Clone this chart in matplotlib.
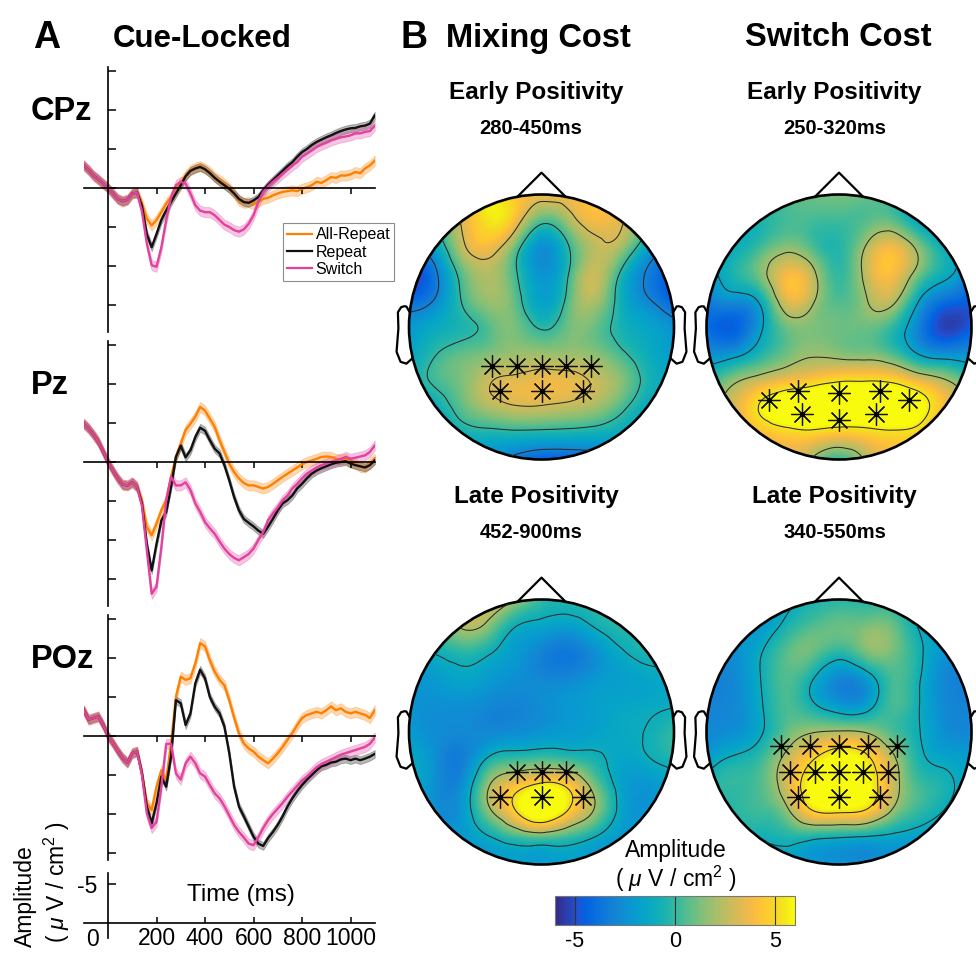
import numpy as np
import matplotlib
matplotlib.use('Agg')
import matplotlib.pyplot as plt
import matplotlib.tri as mtri
from matplotlib.colors import LinearSegmentedColormap, Normalize
from matplotlib.cm import ScalarMappable
from matplotlib.patches import Circle
from matplotlib.lines import Line2D

plt.rcParams['font.family'] = ['Liberation Sans', 'DejaVu Sans']
plt.rcParams['mathtext.fontset'] = 'custom'
plt.rcParams['mathtext.rm'] = 'Liberation Sans'
plt.rcParams['mathtext.it'] = 'Liberation Sans:italic'

# ---------------- ERP data (uV/cm^2, 20 ms steps) ----------------
t_ms = np.arange(-100, 1101, 20)

# shared part -100..120 ms, then condition specific 140..1100 ms
cpz_pre = [-2.9, -2.3, -1.6, -1.1, -0.55, 0.0, 0.7, 1.4, 1.7, 1.5, 0.7, 0.6]
cpz_allrep = [2.0, 3.9, 4.8, 4.1, 3.1, 2.0, 1.2, 0.3, -0.65, -1.6,
              -2.3, -2.6, -2.8, -2.5, -2.05, -1.4, -1.0, -0.55, 0.0, 0.7,
              1.6, 1.9, 1.8, 2.1, 1.8, 1.4, 1.25, 0.95, 0.7, 0.5,
              0.4, 0.3, 0.4, 0.1, -0.1, -0.35, -0.8, -0.65, -1.0, -1.4,
              -1.3, -1.6, -1.6, -1.75, -2.05, -1.9, -2.5, -2.9, -3.5]
cpz_repeat = [2.3, 5.9, 7.6, 5.9, 4.1, 2.9, 1.8, 0.7, -0.35, -1.5,
              -2.2, -2.5, -2.7, -2.4, -1.9, -1.3, -0.8, -0.35, 0.1, 0.7,
              1.4, 1.8, 1.9, 1.6, 1.15, 0.3, -0.4, -1.0, -1.6, -2.2,
              -2.8, -3.3, -4.0, -4.6, -5.0, -5.5, -5.9, -6.2, -6.5, -6.75,
              -7.05, -7.3, -7.5, -7.65, -7.7, -7.9, -8.0, -8.25, -9.3]
cpz_switch = [3.0, 7.1, 9.9, 10.1, 7.6, 4.1, 1.2, -0.35, -0.8, -0.55,
              0.7, 2.2, 2.9, 3.1, 3.1, 3.5, 4.1, 4.7, 5.0, 5.4,
              5.6, 5.3, 4.6, 3.5, 1.8, 0.5, -0.2, -0.8, -1.3, -1.85,
              -2.35, -2.9, -3.3, -4.0, -4.4, -4.8, -5.25, -5.55, -5.8, -6.1,
              -6.3, -6.5, -6.6, -6.75, -7.0, -7.0, -7.2, -7.3, -8.0]

pz_pre = [-4.9, -4.3, -3.5, -2.6, -1.3, 0.0, 1.1, 2.1, 2.9, 3.0, 2.6, 3.2]
pz_allrep = [5.0, 8.3, 9.4, 7.9, 6.2, 4.9, 1.9, -0.65, -2.35, -4.1,
             -4.9, -5.8, -7.05, -6.6, -5.55, -4.5, -2.8, -1.3, 0.2, 1.3,
             2.1, 2.7, 3.0, 3.0, 3.2, 3.4, 3.2, 2.8, 2.35, 1.9,
             1.5, 1.1, 0.7, 0.3, 0.0, -0.2, -0.4, -0.65, -0.7, -0.65,
             -0.4, -0.3, -0.4, 0.0, 0.2, 0.65, 0.7, 0.2, -0.4]
pz_repeat = [5.3, 10.5, 13.9, 10.5, 7.5, 6.4, 3.2, -0.65, -2.1, -0.6,
             -1.5, -3.2, -4.4, -4.0, -2.8, -1.7, -1.1, 0.4, 2.35, 4.5,
             6.2, 7.3, 7.8, 8.25, 8.8, 9.2, 8.3, 7.3, 6.2, 5.3,
             4.9, 4.3, 3.4, 2.8, 2.1, 1.5, 1.1, 0.8, 0.55, 0.3,
             0.1, 0.0, -0.1, 0.2, 0.4, 0.55, 0.7, 0.4, -0.2]
pz_switch = [5.6, 11.3, 16.9, 16.0, 10.9, 4.9, 1.9, 3.0, 3.0, 2.6,
             3.6, 5.3, 6.4, 7.7, 8.5, 9.2, 10.2, 11.1, 11.8, 12.3,
             12.6, 12.2, 11.8, 11.1, 10.0, 9.0, 7.5, 6.6, 5.8, 4.9,
             4.3, 3.4, 2.8, 2.1, 1.5, 1.1, 0.7, 0.4, 0.2, 0.0,
             -0.2, -0.4, -0.65, -0.4, -0.55, -0.7, -0.85, -1.3, -2.1]

poz_pre = [-3.3, -2.1, -2.3, -2.5, -1.4, 0.0, 0.9, 1.9, 2.8, 3.4, 2.2, 2.0]
poz_allrep = [4.8, 8.6, 9.5, 6.5, 4.4, 5.6, 0.95, -5.0, -7.6, -7.2,
              -7.4, -9.3, -11.9, -11.5, -9.7, -8.25, -7.2, -6.5, -4.6, -2.35,
              -0.35, 0.95, 1.6, 2.0, 2.65, 3.1, 3.5, 2.9, 2.2, 1.4,
              0.5, -0.35, -1.4, -2.3, -2.7, -2.9, -3.1, -2.9, -3.3, -3.8,
              -3.3, -3.55, -3.1, -2.9, -3.1, -2.9, -2.7, -2.3, -3.3]
poz_repeat = [4.8, 9.05, 11.2, 8.6, 5.2, 6.5, 2.65, -4.6, -4.2, -1.4,
              -2.9, -6.75, -8.5, -7.4, -5.0, -3.75, -2.9, -1.2, 2.2, 6.5,
              9.05, 10.3, 11.6, 12.9, 13.8, 14.1, 13.1, 12.3, 11.4, 10.3,
              9.05, 8.0, 7.1, 6.3, 5.6, 5.0, 4.4, 3.9, 3.7, 3.4,
              3.3, 3.0, 2.9, 3.1, 2.9, 3.1, 2.9, 2.65, 2.3]
poz_switch = [5.0, 9.9, 11.8, 11.0, 6.5, 1.0, 1.0, 4.8, 5.6, 3.5,
              2.65, 3.5, 4.8, 5.2, 6.3, 7.35, 8.0, 9.0, 10.2, 11.4,
              12.3, 13.0, 13.8, 14.0, 13.0, 11.8, 10.8, 10.0, 9.3, 8.6,
              7.8, 7.1, 6.4, 5.7, 5.2, 4.6, 4.0, 3.6, 3.3, 3.0,
              2.7, 2.4, 2.2, 2.0, 1.8, 1.6, 1.4, 1.0, 0.2]

conditions = ['All-Repeat', 'Repeat', 'Switch']
cond_colors = ['#FF7F00', '#111111', '#E2419E']
cond_se = [0.65, 0.5, 0.65]

# ---------------- topography data (11x11 grid over the head, top row = front) ----------------
grid_xy = np.linspace(-1, 1, 11)

mix_early = [
    [2.0, 3.5, 5.0, 6.0, 4.5, 3.8, 3.8, 4.0, 3.5, 1.5, 0.0],
    [-0.5, 1.0, 3.2, 5.4, 4.0, 0.5, 2.0, 3.8, 3.2, 1.0, -0.5],
    [-3.0, -1.5, 2.5, 3.8, 1.0, -2.5, -0.2, 2.5, 2.0, -1.5, -3.0],
    [-5.5, -3.3, 0.7, 2.3, 0.3, -2.3, -0.1, 2.8, -0.3, -3.2, -5.0],
    [-4.0, -2.8, 0.1, 1.8, 0.8, -1.7, 0.5, 2.2, -0.8, -2.8, -4.5],
    [-2.2, -1.2, -0.5, 0.6, 1.2, -0.2, 1.0, 1.0, -0.6, -1.5, -2.5],
    [-1.5, -0.1, 0.8, 1.3, 1.8, 1.8, 1.8, 1.5, 0.3, -1.0, -2.0],
    [-1.2, 0.3, 1.3, 2.8, 3.3, 3.6, 3.5, 2.8, 1.5, -0.5, -1.5],
    [-2.0, -1.0, 0.8, 2.2, 2.9, 2.9, 2.6, 2.0, 0.5, -1.2, -2.0],
    [-2.5, -2.0, -0.8, -0.5, -0.4, -0.5, -0.6, -0.8, -1.2, -2.0, -2.5],
    [-3.2, -3.2, -2.5, -2.5, -3.5, -4.5, -4.5, -4.0, -3.2, -3.2, -3.2],
]
sw_early = [
    [-1.0, -0.5, 0.0, 0.5, 1.0, 1.2, 1.0, 0.5, -0.5, -1.4, -2.0],
    [-1.0, -0.8, -0.5, 0.3, 0.3, 0.2, 0.6, 0.8, -1.2, -2.0, -2.5],
    [-2.0, -1.0, 0.2, 1.5, 0.5, -0.3, 2.1, 3.8, 1.5, -1.0, -2.5],
    [-2.5, -0.5, 1.2, 3.8, 2.5, 0.0, 2.5, 4.0, 1.2, -1.0, -3.0],
    [-3.5, -2.5, -1.2, 3.2, 2.3, 0.5, 1.8, 2.5, -1.4, -3.8, -4.5],
    [-4.0, -4.5, -2.0, 1.0, 1.3, 1.0, 1.0, 0.0, -3.0, -5.3, -4.5],
    [-2.5, -2.2, -0.5, 1.0, 1.8, 1.5, 1.3, 0.5, -1.6, -2.5, -2.5],
    [-0.5, 1.5, 2.8, 3.8, 4.5, 5.2, 5.3, 5.0, 3.5, 2.1, 0.0],
    [1.0, 3.0, 5.6, 7.0, 7.5, 7.5, 7.5, 7.5, 6.5, 4.0, 2.1],
    [1.0, 2.5, 4.0, 4.8, 5.0, 4.5, 4.8, 5.2, 4.8, 3.0, 1.5],
    [1.0, 2.1, 3.0, 3.5, 1.8, 0.0, 2.2, 4.0, 4.0, 2.5, 1.0],
]
mix_late = [
    [0.5, 1.5, 2.5, 3.0, 2.1, 0.0, -0.3, -0.3, -0.5, -0.9, -1.5],
    [-0.5, 0.5, 2.2, 1.5, -0.9, -1.5, -1.8, -0.9, -0.3, -0.5, -0.9],
    [-0.9, -0.9, -0.2, -0.8, -2.0, -3.0, -3.5, -2.5, -1.2, -0.5, -0.5],
    [-2.0, -2.0, -1.5, -2.0, -2.5, -2.8, -2.8, -2.2, -1.8, -1.5, -1.2],
    [-2.3, -2.5, -2.5, -2.8, -3.0, -2.6, -2.2, -1.8, -1.5, -1.3, -1.1],
    [-2.0, -2.6, -2.8, -2.8, -2.6, -2.3, -2.0, -1.7, -1.3, -0.9, 0.0],
    [-1.3, -2.5, -3.2, -0.8, 0.0, 0.3, 0.0, -0.6, -1.5, -1.1, -0.5],
    [-1.5, -2.5, -2.5, 1.8, 4.0, 5.5, 4.5, 1.2, -1.6, -2.2, -1.5],
    [-2.1, -2.5, -2.1, 1.5, 4.8, 7.5, 4.8, 1.8, -1.5, -2.3, -2.1],
    [-2.1, -2.2, -2.1, -1.2, 0.0, 0.5, 0.0, -1.1, -2.1, -2.2, -2.1],
    [-2.1, -2.1, -2.1, -1.8, -1.8, -1.8, -1.8, -1.8, -2.1, -2.1, -2.1],
]
sw_late = [
    [-2.0, -2.0, -1.5, -1.3, -0.5, -0.3, -0.3, -0.5, -1.5, -2.0, -2.0],
    [-2.5, -2.2, -2.0, -0.6, 0.5, 0.9, 1.2, 1.0, -1.1, -2.0, -2.5],
    [-2.5, -2.5, -1.2, 0.6, 0.9, -0.2, 1.1, 1.2, -0.6, -2.3, -2.5],
    [-3.0, -2.8, -1.1, 0.5, -0.9, -2.8, -2.0, 0.3, -0.8, -2.8, -3.0],
    [-3.0, -2.8, -1.3, 0.4, -0.7, -2.0, -1.8, 0.3, -0.9, -2.7, -3.0],
    [-2.8, -2.5, -1.3, 0.8, 1.9, 2.2, 1.9, 0.5, -0.9, -2.5, -2.8],
    [-2.0, -0.8, 0.0, 2.5, 4.8, 6.5, 5.5, 2.5, -0.5, -1.5, -2.0],
    [-0.5, 0.0, 0.5, 3.0, 6.5, 8.0, 6.5, 3.0, 0.3, -0.6, -2.0],
    [-1.1, -0.3, 0.2, 1.5, 4.8, 5.3, 4.7, 1.8, 0.0, -1.1, -2.0],
    [-1.5, -0.8, -0.8, -0.5, -0.7, -1.05, -1.3, -1.5, -1.8, -2.0, -2.0],
    [-2.0, -2.0, -2.0, -1.8, -2.0, -2.3, -2.5, -2.5, -2.5, -2.5, -2.5],
]

# significant electrodes (head radius units)
mix_early_ex = [-0.373, -0.183, 0.0, 0.183, 0.373, -0.313, 0.0, 0.31]
mix_early_ey = [-0.295, -0.295, -0.295, -0.295, -0.295, -0.48, -0.48, -0.48]
sw_early_ex = [-0.53, -0.31, 0.0, 0.31, 0.53, -0.283, 0.0, 0.283]
sw_early_ey = [-0.548, -0.485, -0.497, -0.485, -0.548, -0.66, -0.705, -0.66]
mix_late_ex = [-0.183, 0.0, 0.183, -0.31, 0.0, 0.31]
mix_late_ey = [-0.30, -0.30, -0.30, -0.49, -0.49, -0.49]
sw_late_ex = [-0.435, -0.22, 0.0, 0.22, 0.435, -0.37, -0.18, 0.0, 0.18, 0.37, -0.31, 0.0, 0.31]
sw_late_ey = [-0.106] * 5 + [-0.305] * 5 + [-0.49] * 3

# parula-like colormap
parula_anchors = [
    (0.2081, 0.1663, 0.5292), (0.1253, 0.3242, 0.8303), (0.0117, 0.3875, 0.8820),
    (0.0498, 0.4586, 0.8641), (0.0793, 0.5200, 0.8312), (0.0343, 0.5966, 0.8199),
    (0.0228, 0.6535, 0.7768), (0.0843, 0.6928, 0.7062), (0.2178, 0.7250, 0.6193),
    (0.3953, 0.7459, 0.5244), (0.5709, 0.7485, 0.4494), (0.7184, 0.7411, 0.3905),
    (0.8507, 0.7299, 0.3360), (0.9739, 0.7314, 0.2666), (0.9990, 0.7653, 0.2164),
    (0.9880, 0.8066, 0.1794), (0.9697, 0.8481, 0.1475), (0.9589, 0.8949, 0.1132),
    (0.9763, 0.9831, 0.0538)]
parula_pos = [0, 6, 8, 12, 16, 20, 24, 28, 32, 36, 40, 44, 48, 52, 54, 56, 58, 60, 63]
parula = LinearSegmentedColormap.from_list(
    'parula', [(p / 63, c) for p, c in zip(parula_pos, parula_anchors)])

W, H = 976, 958
fig = plt.figure(figsize=(W / 100, H / 100), dpi=100)


def ax_px(l, t, r, b):
    return fig.add_axes([l / W, 1 - b / H, (r - l) / W, (b - t) / H])


def label(x, y, s, size, weight='normal', **kw):
    fig.text(x / W, 1 - y / H, s, fontsize=size, fontweight=weight,
             ha=kw.pop('ha', 'center'), va=kw.pop('va', 'center'), **kw)


# ---------------- panel A ----------------
X0, X1 = 83.75, 374.75
channels = [
    ('CPz', 67.1, 332.3, 18.5, cpz_pre, [cpz_allrep, cpz_repeat, cpz_switch]),
    ('Pz', 341.1, 606.3, 18.5, pz_pre, [pz_allrep, pz_repeat, pz_switch]),
    ('POz', 615.1, 860.0, 15.9, poz_pre, [poz_allrep, poz_repeat, poz_switch]),
]
erp_axes = []
for name, top, bot, ymax, pre, posts in channels:
    ax = ax_px(X0, top, X1, bot)
    ax.patch.set_alpha(0)
    for post, c, se in zip(posts, cond_colors, cond_se):
        y = np.concatenate([pre, post])
        ax.fill_between(t_ms, y - se, y + se, color=c, alpha=0.3, lw=0.6)
        ax.plot(t_ms, y, color=c, lw=1.7)
    ax.set_xlim(-100, 1100)
    ax.set_ylim(ymax, -15.5)
    ax.spines['left'].set_position(('data', 0))
    ax.spines['bottom'].set_position(('data', 0))
    for s in ['top', 'right']:
        ax.spines[s].set_visible(False)
    for s in ['left', 'bottom']:
        ax.spines[s].set_linewidth(1.2)
    ax.set_yticks([-15, -10, -5, 0, 5, 10, 15])
    ax.set_yticklabels([])
    ax.set_xticks([200, 400, 600, 800, 1000])
    ax.set_xticklabels([])
    ax.tick_params(axis='y', direction='in', length=6, width=1.1)
    ax.tick_params(axis='x', direction='out', length=4, width=1.1)
    erp_axes.append(ax)

handles = [Line2D([], [], color=c, lw=1.6) for c in cond_colors]
leg = erp_axes[0].legend(handles, conditions, loc='upper left', bbox_to_anchor=(0.684, 0.411),
                         fontsize=11.5, frameon=True, fancybox=False, edgecolor='#8c8c8c',
                         framealpha=1, handlelength=1.6, handletextpad=0.2, borderpad=0.25,
                         labelspacing=0.15, borderaxespad=0)
leg.get_frame().set_linewidth(0.8)

# scale bar axis
ax_s = ax_px(X0, 873, X1, 938)
ax_s.patch.set_alpha(0)
ax_s.set_xlim(-100, 1100)
ax_s.set_ylim(1.9, -6.4)
ax_s.spines['left'].set_position(('data', 0))
ax_s.spines['bottom'].set_position(('data', 0))
for s in ['top', 'right']:
    ax_s.spines[s].set_visible(False)
for s in ['left', 'bottom']:
    ax_s.spines[s].set_linewidth(1.2)
ax_s.set_yticks([-5])
ax_s.set_yticklabels(['-5'])
ax_s.set_xticks([200, 400, 600, 800, 1000])
ax_s.set_xticklabels(['200', '400', '600', '800', '1000'])
ax_s.tick_params(axis='y', direction='in', length=6, width=1.1, labelsize=16.5, pad=8)
ax_s.tick_params(axis='x', direction='in', length=4, width=1.1, labelsize=16.5, pad=3)

label(92.5, 940, '0', 16.5)
label(241, 895, 'Time (ms)', 17.5)
label(25, 896, 'Amplitude', 16.5, rotation=90)
label(57, 882, r'( $\mu$ V / $\mathrm{cm}^{2}$ )', 16.5, rotation=90)

label(47, 38, 'A', 27, 'bold')
label(202, 39, 'Cue-Locked', 22.5, 'bold')
label(31, 112, 'CPz', 23.5, 'bold', ha='left')
label(31, 386, 'Pz', 23.5, 'bold', ha='left')
label(31, 659, 'POz', 23.5, 'bold', ha='left')

# ---------------- panel B ----------------
gx, gy = np.meshgrid(grid_xy, grid_xy[::-1])
n = len(grid_xy)
tris = []
for i in range(n - 1):
    for j in range(n - 1):
        k = i * n + j
        tris.append([k, k + 1, k + n])
        tris.append([k + 1, k + n + 1, k + n])
base_tri = mtri.Triangulation(gx.ravel(), gy.ravel(), np.array(tris))
refiner = mtri.UniformTriRefiner(base_tri)

ear_x = np.array([.497, .510, .518, .5299, .5419, .54, .547, .532, .510, .489]) * 2
ear_y = np.array([.0555, .0775, .0783, .0746, .0555, -.0055, -.0932, -.1313, -.1384, -.1199]) * 2


def topo(cx, cy, grid, ex, ey, levels):
    R = 132.5
    ax = ax_px(cx - 1.2 * R, cy - 1.22 * R, cx + 1.2 * R, cy + 1.08 * R)
    ax.set_xlim(-1.2, 1.2)
    ax.set_ylim(-1.08, 1.22)
    ax.axis('off')
    tri_f, z_f = refiner.refine_field(np.asarray(grid, float).ravel(), subdiv=4)
    clip = Circle((0, 0), 1.0, transform=ax.transData)
    pc = ax.tripcolor(tri_f, z_f, shading='gouraud', cmap=parula, vmin=-6, vmax=6)
    pc.set_clip_path(clip)
    cs = ax.tricontour(tri_f, z_f, levels=levels, colors='#2b2b2b',
                       linewidths=0.75, linestyles='solid')
    cs.set_clip_path(clip)
    ax.add_patch(Circle((0, 0), 1.0, fill=False, lw=1.9, ec='k'))
    ax.plot([0.18, 0, -0.18], [0.985, 1.165, 0.985], color='k', lw=1.6)
    ax.plot(ear_x, ear_y, color='k', lw=1.6)
    ax.plot(-ear_x, ear_y, color='k', lw=1.6)
    ax.plot(ex, ey, ls='none', marker=(8, 2, 0), ms=16, mew=0.9, color='#111111')
    ax.plot(ex, ey, ls='none', marker='o', ms=2.6, color='k')
    return ax


topo(541.5, 327, mix_early, mix_early_ex, mix_early_ey, [-3, 0, 3])
topo(839, 327, sw_early, sw_early_ex, sw_early_ey, [-1.5, 2, 5.5])
topo(541.5, 732, mix_late, mix_late_ex, mix_late_ey, [-1, 2, 5])
topo(839, 732, sw_late, sw_late_ex, sw_late_ey, [-1, 2, 5])

label(414, 38, 'B', 27, 'bold')
label(538, 38, 'Mixing Cost', 23.5, 'bold')
label(838, 38, 'Switch Cost', 23.5, 'bold')
label(536, 93, 'Early Positivity', 17.5, 'bold')
label(531, 128, '280-450ms', 14.5, 'bold')
label(834, 93, 'Early Positivity', 17.5, 'bold')
label(835, 128, '250-320ms', 14.5, 'bold')
label(536, 497, 'Late Positivity', 17.5, 'bold')
label(531, 533, '452-900ms', 14.5, 'bold')
label(834, 497, 'Late Positivity', 17.5, 'bold')
label(835, 533, '340-550ms', 14.5, 'bold')

# colorbar
ax_cb = ax_px(555, 896, 795, 925)
cb = fig.colorbar(ScalarMappable(norm=Normalize(-6, 6), cmap=parula), cax=ax_cb,
                  orientation='horizontal', ticks=[-5, 0, 5])
cb.ax.set_xticklabels(['-5', '0', '5'])
cb.ax.tick_params(direction='in', length=21, width=0.8, color='#333333', labelsize=15.5, pad=4)
cb.outline.set_edgecolor('#777777')
cb.outline.set_linewidth(0.8)
label(676, 851, 'Amplitude', 16.5)
label(676, 879, r'( $\mu$ V / $\mathrm{cm}^{2}$ )', 16.5)

fig.savefig('out.png', dpi=100)
